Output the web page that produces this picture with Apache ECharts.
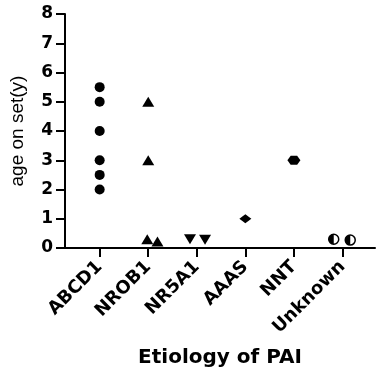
<!DOCTYPE html>
<html>
<head>
<meta charset="utf-8">
<script src="https://cdn.jsdelivr.net/npm/echarts@6/dist/echarts.min.js"></script>
<style>
  html, body { margin: 0; padding: 0; background: #fff; }
  #chart { width: 383px; height: 375px; }
</style>
</head>
<body>
<div id="chart"></div>
<script>
const categories = ['ABCD1', 'NROB1', 'NR5A1', 'AAAS', 'NNT', 'Unknown']
const yTicks = [0, 1, 2, 3, 4, 5, 6, 7, 8]

// [position on category axis (with jitter), age]
const abcd1 = [[0, 5.5], [0, 5], [0, 4], [0, 3], [0, 2.5], [0, 2]]
const nrob1 = [[1, 5], [1, 3], [0.98, 0.3], [1.19, 0.22]]
const nr5a1 = [[1.86, 0.3], [2.17, 0.28]]
const aaas = [[3, 1]]
const nnt = [[4, 3]]
const unknown = [[4.82, 0.3], [5.16, 0.27]]

const font = 'Arial, "Liberation Sans", sans-serif'
const wideFont = '"DejaVu Sans", sans-serif'
const hexPath = 'path://M3,0 L9,0 L12,4 L9,8 L3,8 L0,4 Z'
const halfLeft = 'path://M5,0 A5,5 0 0 0 5,10 Z'
const black = { color: '#000', opacity: 1 }

const chart = echarts.init(document.getElementById('chart'))
chart.setOption({
  backgroundColor: '#fff',
  animation: false,
  grid: { left: 62, right: 8, top: 14, bottom: 127 },
  xAxis: {
    type: 'value',
    min: -0.714,
    max: 5.67,
    splitLine: { show: false },
    axisLine: { onZero: false, lineStyle: { color: '#000', width: 2 } },
    axisTick: { customValues: [0, 1, 2, 3, 4, 5], length: 9, lineStyle: { color: '#000', width: 2 } },
    axisLabel: {
      customValues: [0, 1, 2, 3, 4, 5],
      formatter: v => categories[Math.round(v)],
      rotate: 45,
      margin: 16,
      color: '#000',
      fontSize: 18,
      fontWeight: 'bold',
      fontFamily: wideFont
    },
    name: 'Etiology of PAI',
    nameLocation: 'middle',
    nameGap: 100,
    nameTextStyle: { color: '#000', fontSize: 20, fontWeight: 'bold', fontFamily: wideFont }
  },
  yAxis: {
    type: 'value',
    min: 0,
    max: 8,
    interval: 1,
    splitLine: { show: false },
    axisLine: { show: true, onZero: false, lineStyle: { color: '#000', width: 2 } },
    axisTick: { show: true, length: 9, lineStyle: { color: '#000', width: 2 } },
    axisLabel: {
      formatter: v => yTicks.includes(v) ? String(v) : '',
      margin: 12,
      color: '#000',
      fontSize: 17,
      fontWeight: 'bold',
      fontFamily: wideFont
    },
    name: 'age on set(y)',
    nameLocation: 'middle',
    nameGap: 38,
    nameTextStyle: { color: '#000', fontSize: 19, fontFamily: font }
  },
  series: [
    { type: 'scatter', data: abcd1, symbol: 'circle', symbolSize: 10, itemStyle: black },
    { type: 'scatter', data: nrob1, symbol: 'triangle', symbolSize: [12, 10], itemStyle: black },
    { type: 'scatter', data: nr5a1, symbol: 'triangle', symbolRotate: 180, symbolSize: [12, 10], itemStyle: black },
    { type: 'scatter', data: aaas, symbol: 'diamond', symbolSize: [12, 9], itemStyle: black },
    { type: 'scatter', data: nnt, symbol: hexPath, symbolSize: [13, 9], itemStyle: black },
    { type: 'scatter', data: unknown, symbol: 'circle', symbolSize: 10, itemStyle: { color: '#fff', opacity: 1, borderColor: '#000', borderWidth: 1.5 } },
    { type: 'scatter', data: unknown, symbol: halfLeft, symbolSize: [5, 10], symbolOffset: [-2.5, 0], itemStyle: black }
  ]
})
</script>
</body>
</html>
